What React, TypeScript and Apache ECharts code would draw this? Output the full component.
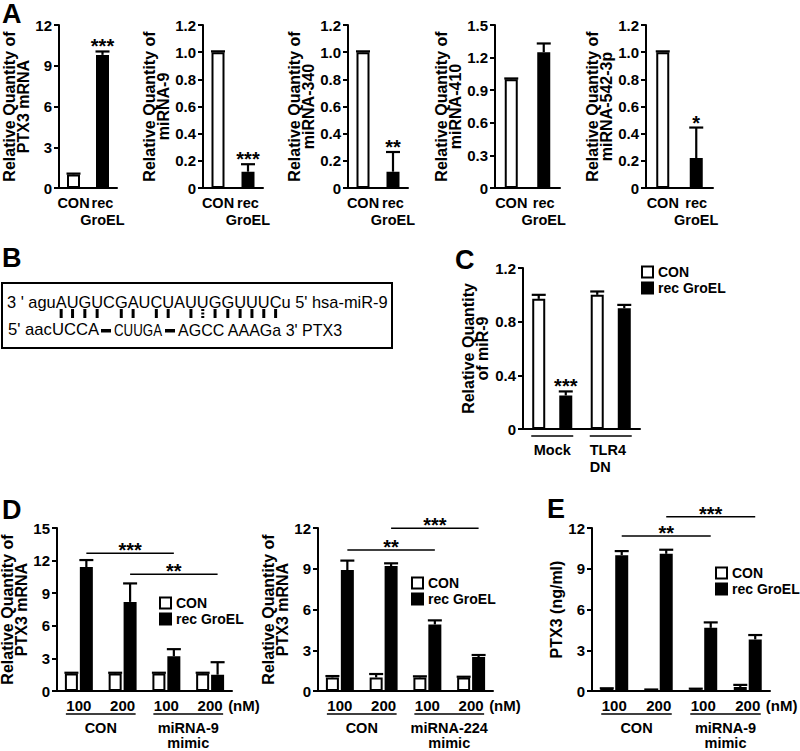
import React, { useEffect, useRef } from "react";
import * as echarts from "echarts";

const FONT = "'Liberation Sans', Arial, Helvetica, sans-serif";
const INK = "#000000";
const PAPER = "#ffffff";

// ===== Panel A =====
const aCategories = ["CON", "rec GroEL"];
const aYTitles = [
  "Relative Quantity of\nPTX3 mRNA",
  "Relative Quantity of\nmiRNA-9",
  "Relative Quantity of\nmiRNA-340",
  "Relative Quantity of\nmiRNA-410",
  "Relative Quantity of\nmiRNA-542-3p",
];
const aYMax = [12, 1.2, 1.2, 1.5, 1.2];
const aYStep = [3, 0.2, 0.2, 0.3, 0.2];
const aConMeans = [1.0, 1.0, 1.0, 1.0, 1.0];
const aConErrs = [0.06, 0.006, 0.006, 0.008, 0.006];
const aRecMeans = [9.8, 0.12, 0.12, 1.25, 0.22];
const aRecErrs = [0.25, 0.055, 0.145, 0.08, 0.225];
const aStars = ["***", "***", "**", "", "*"];

// ===== Panel B =====
const bMirPrefix = "3 ' agu";
const bMirSeq = "AUGUCGAUCUAUUGGUUUC";
const bMirSuffix = "u 5' hsa-miR-9";
const bPairs = [1, 2, 3, 4, 6, 7, 9, 10, 12, 14, 15, 16, 17, 18, 19];
const bWobble = [13];
const bTargetParts = ["5' aacUCCA", "CUUGA", "AGCC AAAGa 3' PTX3"];

// ===== Panel C =====
const cCategories = ["Mock", "TLR4\nDN"];
const cYTitle = "Relative Quantity\nof miR-9";
const cYMax = 1.2;
const cYStep = 0.4;
const cConMeans = [0.97, 1.0];
const cConErrs = [0.03, 0.025];
const cRecMeans = [0.25, 0.9];
const cRecErrs = [0.03, 0.025];
const cStars = ["***", ""];

// ===== Panels D and E =====
const seriesNames = ["CON", "rec GroEL"];
const doseLabels = ["100", "200", "100", "200"];
const doseUnit = "(nM)";
const doseSpans = [
  [0, 1],
  [2, 3],
];

const d1YTitle = "Relative Quantity of\nPTX3 mRNA";
const d1YMax = 15;
const d1ConMeans = [1.6, 1.6, 1.6, 1.6];
const d1ConErrs = [0.08, 0.08, 0.08, 0.08];
const d1RecMeans = [11.4, 8.2, 3.2, 1.5];
const d1RecErrs = [0.65, 1.7, 0.65, 1.15];
const d1GroupLabels = ["CON", "miRNA-9\nmimic"];
const d1Sig = [
  { from: 0, to: 2, y: 12.67, label: "***" },
  { from: 1, to: 3, y: 10.74, label: "**" },
];

const d2YTitle = "Relative Quantity of\nPTX3 mRNA";
const d2YMax = 12;
const d2ConMeans = [1.0, 1.0, 1.0, 1.0];
const d2ConErrs = [0.1, 0.25, 0.08, 0.05];
const d2RecMeans = [8.9, 9.2, 4.9, 2.5];
const d2RecErrs = [0.7, 0.2, 0.3, 0.15];
const d2GroupLabels = ["CON", "miRNA-224\nmimic"];
const d2Sig = [
  { from: 0, to: 2, y: 10.38, label: "**" },
  { from: 1, to: 3, y: 11.98, label: "***" },
];

const eYTitle = "PTX3 (ng/ml)";
const eYMax = 12;
const eConMeans = [0.15, 0.08, 0.12, 0.3];
const eConErrs = [0.05, 0.03, 0.05, 0.15];
const eRecMeans = [10.0, 10.1, 4.65, 3.8];
const eRecErrs = [0.3, 0.3, 0.4, 0.32];
const eGroupLabels = ["CON", "miRNA-9\nmimic"];
const eSig = [
  { from: 0, to: 2, y: 11.41, label: "**" },
  { from: 1, to: 3, y: 12.83, label: "***" },
];

// ===== layout (pixels) =====
const GRIDS = [
  { left: 59, top: 25, width: 58, height: 163 },
  { left: 203, top: 25, width: 60, height: 163 },
  { left: 348, top: 25, width: 60, height: 163 },
  { left: 495, top: 25, width: 65, height: 163 },
  { left: 646, top: 25, width: 67, height: 163 },
  { left: 523, top: 268, width: 117, height: 161 },
  { left: 57, top: 528, width: 175, height: 163 },
  { left: 318, top: 528, width: 175, height: 163 },
  { left: 592, top: 528, width: 178, height: 163 },
];
const A_NAME_GAPS = [27, 33, 33, 31, 32];
const BAR_W = 13;
const BORDER = 2;
const B_FONT_SIZE = 16.4;
const boldFont = (size: number) => `bold ${size}px ${FONT}`;

function fmtTick(step: number) {
  return (v: number) => (v === 0 ? "0" : step < 1 ? v.toFixed(1) : String(Math.round(v)));
}

function yAxisCfg(grid: number, max: number, step: number, name: string, nameGap: number) {
  return {
    type: "value",
    gridIndex: grid,
    min: 0,
    max,
    interval: step,
    name,
    nameLocation: "middle",
    nameRotate: 90,
    nameGap,
    nameTextStyle: { fontSize: 16, fontWeight: "bold", color: INK, fontFamily: FONT, lineHeight: 13.5 },
    axisLine: { show: true, lineStyle: { color: INK, width: 2 } },
    axisTick: { show: true, length: 5, lineStyle: { color: INK, width: 2 } },
    axisLabel: { fontSize: 15, fontWeight: "bold", color: INK, fontFamily: FONT, margin: 7, formatter: fmtTick(step) },
    splitLine: { show: false },
  };
}

function xAxisCfg(
  grid: number,
  data: string[],
  showLabel: boolean,
  margin: number,
  fontSize: number,
  formatter?: (v: string) => string
) {
  return {
    type: "category",
    gridIndex: grid,
    data,
    axisLine: { show: true, onZero: false, lineStyle: { color: INK, width: 2 } },
    axisTick: { show: false },
    axisLabel: {
      show: showLabel,
      interval: 0,
      fontSize,
      fontWeight: "bold",
      color: INK,
      fontFamily: FONT,
      margin,
      lineHeight: 17,
      formatter: formatter || ((v: string) => v),
    },
    splitLine: { show: false },
  };
}

function errorBars(grid: number, means: number[], errs: number[], offset: number, capW = 14) {
  return {
    type: "custom",
    xAxisIndex: grid,
    yAxisIndex: grid,
    silent: true,
    clip: false,
    z: 4,
    data: means.map((m, i) => [i, m + errs[i]]),
    renderItem: (params: any, api: any) => {
      const i = params.dataIndex;
      const base = api.coord([i, means[i]]);
      const top = api.coord([i, means[i] + errs[i]]);
      const x = base[0] + offset;
      const st = { stroke: INK, lineWidth: 2.2 };
      return {
        type: "group",
        children: [
          { type: "line", shape: { x1: x, y1: base[1], x2: x, y2: top[1] }, style: st },
          { type: "line", shape: { x1: x - capW / 2, y1: top[1], x2: x + capW / 2, y2: top[1] }, style: st },
        ],
      };
    },
  };
}

function starMarks(grid: number, means: number[], errs: number[], stars: string[], offset: number) {
  return {
    type: "custom",
    xAxisIndex: grid,
    yAxisIndex: grid,
    silent: true,
    clip: false,
    z: 5,
    data: means.map((m, i) => [i, m + errs[i]]),
    renderItem: (params: any, api: any) => {
      const i = params.dataIndex;
      const p = api.coord([i, means[i] + errs[i]]);
      if (!stars[i]) return { type: "group", children: [] };
      return {
        type: "text",
        x: p[0] + offset,
        y: p[1] - 5,
        style: { text: stars[i], fill: INK, font: boldFont(20), align: "center", verticalAlign: "middle" },
      };
    },
  };
}

function sigLines(grid: number, sig: { from: number; to: number; y: number; label: string }[], offset: number) {
  return {
    type: "custom",
    xAxisIndex: grid,
    yAxisIndex: grid,
    silent: true,
    clip: false,
    z: 5,
    data: sig.map((s) => [s.from, s.y]),
    renderItem: (params: any, api: any) => {
      const s = sig[params.dataIndex];
      const a = api.coord([s.from, s.y]);
      const b = api.coord([s.to, s.y]);
      const x1 = a[0] + offset;
      const x2 = b[0] + offset;
      return {
        type: "group",
        children: [
          { type: "line", shape: { x1, y1: a[1], x2, y2: a[1] }, style: { stroke: INK, lineWidth: 1.5 } },
          {
            type: "text",
            x: (x1 + x2) / 2,
            y: a[1] - 3,
            style: { text: s.label, fill: INK, font: boldFont(20), align: "center", verticalAlign: "middle" },
          },
        ],
      };
    },
  };
}

function groupAxis(
  grid: number,
  spans: number[][],
  labels: string[],
  cfg: { ext: number; ulDy: number; labDy: number; lh: number; aligns: string[]; unit?: string; unitDx?: number; unitDy?: number }
) {
  return {
    type: "custom",
    xAxisIndex: grid,
    yAxisIndex: grid,
    silent: true,
    clip: false,
    z: 5,
    data: spans.map((s) => [s[0], 0]),
    renderItem: (params: any, api: any) => {
      const k = params.dataIndex;
      const [f, t] = spans[k];
      const pf = api.coord([f, 0]);
      const pt = api.coord([t, 0]);
      const y0 = pf[1];
      const x1 = pf[0] - cfg.ext;
      const x2 = pt[0] + cfg.ext;
      const children: any[] = [
        { type: "line", shape: { x1, y1: y0 + cfg.ulDy, x2, y2: y0 + cfg.ulDy }, style: { stroke: INK, lineWidth: 1.5 } },
      ];
      const align = cfg.aligns[k];
      const tx = align === "left" ? x1 : (x1 + x2) / 2;
      labels[k].split("\n").forEach((ln, j) => {
        children.push({
          type: "text",
          x: tx,
          y: y0 + cfg.labDy + j * cfg.lh,
          style: { text: ln, fill: INK, font: boldFont(14.5), align, verticalAlign: "middle" },
        });
      });
      if (cfg.unit && k === spans.length - 1) {
        children.push({
          type: "text",
          x: pt[0] + (cfg.unitDx || 0),
          y: y0 + (cfg.unitDy || 0),
          style: { text: cfg.unit, fill: INK, font: boldFont(15), align: "left", verticalAlign: "middle" },
        });
      }
      return { type: "group", children };
    },
  };
}

function barPair(grid: number, con: number[], rec: number[], gap: string) {
  return [
    {
      type: "bar",
      name: seriesNames[0],
      xAxisIndex: grid,
      yAxisIndex: grid,
      barWidth: BAR_W,
      barGap: gap,
      data: con,
      silent: true,
      itemStyle: { color: PAPER, borderColor: INK, borderWidth: BORDER },
    },
    {
      type: "bar",
      name: seriesNames[1],
      xAxisIndex: grid,
      yAxisIndex: grid,
      barWidth: BAR_W,
      barGap: gap,
      data: rec,
      silent: true,
      itemStyle: { color: INK, borderColor: INK, borderWidth: BORDER },
    },
  ];
}

function legendAt(left: number, top: number) {
  return {
    left,
    top,
    orient: "vertical",
    padding: 0,
    icon: "rect",
    itemWidth: 11,
    itemHeight: 11,
    itemGap: 2,
    selectedMode: false,
    data: seriesNames,
    itemStyle: { borderColor: INK, borderWidth: 2 },
    textStyle: { fontSize: 14, fontWeight: "bold", color: INK, fontFamily: FONT, lineHeight: 14 },
  };
}

function panelB() {
  const ctx = document.createElement("canvas").getContext("2d")!;
  const fs = B_FONT_SIZE;
  const measure = (s: string) => {
    ctx.font = `${fs}px ${FONT}`;
    return ctx.measureText(s).width;
  };
  const x0 = 7;
  const line1 = bMirPrefix + bMirSeq + bMirSuffix;
  const seqStart = x0 + measure(bMirPrefix);
  const centerOf = (pos: number) => seqStart + measure(bMirSeq.slice(0, pos - 1)) + measure(bMirSeq[pos - 1]) / 2;
  const els: any[] = [];
  els.push({ type: "rect", shape: { x: 2, y: 283, width: 390, height: 65 }, style: { fill: "none", stroke: INK, lineWidth: 2 } });
  els.push({
    type: "text",
    x: x0,
    y: 302,
    style: { text: line1, fill: INK, font: `${fs}px ${FONT}`, align: "left", verticalAlign: "middle" },
  });
  bPairs.forEach((p) => {
    els.push({ type: "rect", shape: { x: centerOf(p) - 1.5, y: 309, width: 3, height: 9 }, style: { fill: INK } });
  });
  bWobble.forEach((p) => {
    [309, 312.5, 316].forEach((yy) => {
      els.push({ type: "rect", shape: { x: centerOf(p) - 1.5, y: yy, width: 3, height: 2 }, style: { fill: INK } });
    });
  });
  // target strand: each part fitted between its extents in the reference
  const spans = [
    [8, 99],
    [114, 162],
    [178, 343],
  ];
  bTargetParts.forEach((t, k) => {
    const w = measure(t) || 1;
    const sx = Math.max(0.72, Math.min(1.05, (spans[k][1] - spans[k][0]) / w));
    els.push({
      type: "text",
      x: spans[k][0],
      y: 330,
      scaleX: sx,
      style: { text: t, fill: INK, font: `${fs}px ${FONT}`, align: "left", verticalAlign: "middle" },
    });
  });
  els.push({ type: "rect", shape: { x: 101, y: 329, width: 10, height: 3.5 }, style: { fill: INK } });
  els.push({ type: "rect", shape: { x: 165, y: 329, width: 10, height: 3.5 }, style: { fill: INK } });
  return els;
}

function panelLetters() {
  const L = [
    ["A", 2, 14],
    ["B", 2, 258],
    ["C", 455, 260],
    ["D", 2, 510],
    ["E", 547, 509],
  ];
  return L.map(([t, x, y]) => ({
    type: "text",
    x,
    y,
    style: { text: t, fill: INK, font: boldFont(27), align: "left", verticalAlign: "middle" },
  }));
}

function buildOption() {
  const grid = GRIDS.map((g) => ({ ...g, containLabel: false, outerBoundsMode: "none" }));
  const xAxis: any[] = [];
  const yAxis: any[] = [];
  const series: any[] = [];

  // Panel A
  for (let i = 0; i < 5; i++) {
    xAxis.push(xAxisCfg(i, aCategories, true, 6, 14.5, (v) => v.replace(" ", "\n")));
    yAxis.push(yAxisCfg(i, aYMax[i], aYStep[i], aYTitles[i], A_NAME_GAPS[i]));
    series.push({
      type: "bar",
      xAxisIndex: i,
      yAxisIndex: i,
      barWidth: BAR_W,
      silent: true,
      data: [
        { value: aConMeans[i], itemStyle: { color: PAPER } },
        { value: aRecMeans[i], itemStyle: { color: INK } },
      ],
      itemStyle: { borderColor: INK, borderWidth: BORDER },
    });
    series.push(errorBars(i, [aConMeans[i], aRecMeans[i]], [aConErrs[i], aRecErrs[i]], 0));
    series.push(starMarks(i, [aConMeans[i], aRecMeans[i]], [aConErrs[i], aRecErrs[i]], ["", aStars[i]], 0));
  }

  // Panel C
  const cOff = (BAR_W * 2.08) / 2;
  xAxis.push(xAxisCfg(5, cCategories, false, 6, 14.5));
  yAxis.push(yAxisCfg(5, cYMax, cYStep, cYTitle, 34));
  series.push(...barPair(5, cConMeans, cRecMeans, "108%"));
  series.push(errorBars(5, cConMeans, cConErrs, -cOff));
  series.push(errorBars(5, cRecMeans, cRecErrs, cOff));
  series.push(starMarks(5, cRecMeans, cRecErrs, cStars, cOff));
  series.push(
    groupAxis(5, [[0, 0], [1, 1]], cCategories, { ext: 21, ulDy: 7, labDy: 21, lh: 17, aligns: ["center", "left"] })
  );

  // Panels D1, D2, E
  const dOff = (BAR_W * 1.15) / 2;
  const panels = [
    { g: 6, max: d1YMax, title: d1YTitle, gap: 25, con: d1ConMeans, conE: d1ConErrs, rec: d1RecMeans, recE: d1RecErrs, groups: d1GroupLabels, sig: d1Sig },
    { g: 7, max: d2YMax, title: d2YTitle, gap: 21, con: d2ConMeans, conE: d2ConErrs, rec: d2RecMeans, recE: d2RecErrs, groups: d2GroupLabels, sig: d2Sig },
    { g: 8, max: eYMax, title: eYTitle, gap: 28, con: eConMeans, conE: eConErrs, rec: eRecMeans, recE: eRecErrs, groups: eGroupLabels, sig: eSig },
  ];
  panels.forEach((p) => {
    xAxis.push(xAxisCfg(p.g, doseLabels, true, 6, 15));
    yAxis.push(yAxisCfg(p.g, p.max, 3, p.title, p.gap));
    series.push(...barPair(p.g, p.con, p.rec, "15%"));
    series.push(errorBars(p.g, p.con, p.conE, -dOff));
    series.push(errorBars(p.g, p.rec, p.recE, dOff));
    series.push(sigLines(p.g, p.sig, dOff));
    series.push(
      groupAxis(p.g, doseSpans, p.groups, {
        ext: 13,
        ulDy: 23,
        labDy: 37,
        lh: 15,
        aligns: ["center", "center"],
        unit: doseUnit,
        unitDx: 18,
        unitDy: 14,
      })
    );
  });

  return {
    animation: false,
    backgroundColor: PAPER,
    textStyle: { fontFamily: FONT },
    grid,
    xAxis,
    yAxis,
    legend: [legendAt(641, 265), legendAt(159, 596), legendAt(411, 576), legendAt(715, 566)],
    graphic: { elements: [...panelLetters(), ...panelB()] },
    series,
  };
}

export default function App() {
  const ref = useRef<HTMLDivElement>(null);
  useEffect(() => {
    const chart = echarts.init(ref.current!, null, { renderer: "svg" });
    chart.setOption(buildOption() as any);
    return () => chart.dispose();
  }, []);
  return (
    <div
      ref={ref}
      style={{ position: "fixed", left: 0, top: 0, width: 800, height: 751, background: "#fff" }}
    />
  );
}
